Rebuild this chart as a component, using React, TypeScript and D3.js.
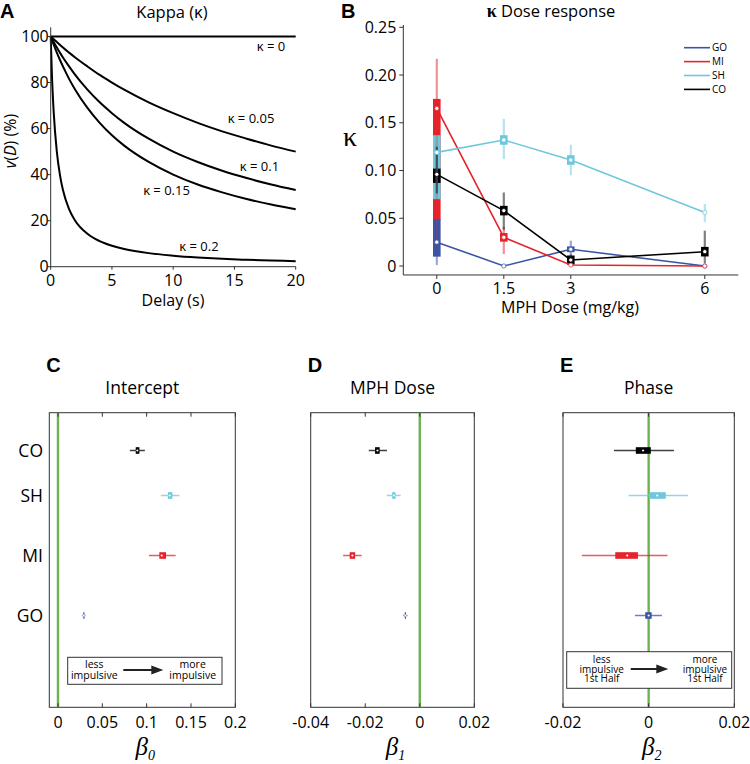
import React from "react";
import * as d3 from "d3";

// ---------- Panel A data ----------
const delays = [0, 0.1, 0.25, 0.5, 0.75, 1, 1.5, 2, 3, 4, 5, 6, 8, 10, 12, 14, 16, 18, 20];
const curveK0 = [100, 100, 100, 100, 100, 100, 100, 100, 100, 100, 100, 100, 100, 100, 100, 100, 100, 100, 100];
const curveK005 = [100, 99.5, 98.8, 97.6, 96.4, 95.2, 93.0, 90.9, 87.0, 83.3, 80.0, 76.9, 71.4, 66.7, 62.5, 58.8, 55.6, 52.6, 50.0];
const curveK01 = [100, 99.0, 97.6, 95.2, 93.0, 90.9, 87.0, 83.3, 76.9, 71.4, 66.7, 62.5, 55.6, 50.0, 45.5, 41.7, 38.5, 35.7, 33.3];
const curveK015 = [100, 98.5, 96.4, 93.0, 89.9, 87.0, 81.6, 76.9, 69.0, 62.5, 57.1, 52.6, 45.5, 40.0, 35.7, 32.3, 29.4, 27.0, 25.0];
const curveK02 = [100, 83.3, 66.7, 50.0, 40.0, 33.3, 25.0, 20.0, 14.3, 11.1, 9.1, 7.7, 5.9, 4.8, 4.0, 3.4, 3.0, 2.7, 2.4];
const curveLabels = ["κ = 0", "κ = 0.05", "κ = 0.1", "κ = 0.15", "κ = 0.2"];
const aYTicks = [0, 20, 40, 60, 80, 100];
const aXTicks = [0, 5, 10, 15, 20];

// ---------- Panel B data ----------
const doses = [0, 1.5, 3, 6];
const groups = ["GO", "MI", "SH", "CO"];
const groupColors = ["#3b54a5", "#e4232b", "#6ec8dc", "#000000"];
const bGO = [0.025, 0.0, 0.0175, 0.0];
const bMI = [0.165, 0.03, 0.001, 0.0];
const bSH = [0.119, 0.132, 0.111, 0.056];
const bCO = [0.096, 0.058, 0.0063, 0.015];
const bGOci = [[0.001, 0.05], null, [0.009, 0.0265], null];
const bMIci = [[0.02, 0.217], [0.0126, 0.041], null, null];
const bSHci = [[0.07, 0.137], [0.112, 0.154], [0.095, 0.127], [0.046, 0.065]];
const bCOci = [[0.076, 0.125], [0.038, 0.077], [0.0, 0.012], [0.003, 0.037]];
const bGOiqr = [[0.0098, 0.049], null, [0.0145, 0.0205], null];
const bMIiqr = [[0.048, 0.175], [0.0255, 0.0345], null, null];
const bSHiqr = [[0.07, 0.137], [0.127, 0.137], [0.106, 0.116], null];
const bCOiqr = [[0.087, 0.102], [0.053, 0.063], [0.0015, 0.011], [0.01, 0.02]];
const bYTicks = [0, 0.05, 0.1, 0.15, 0.2, 0.25];
const bYTickLabels = ["0", "0.05", "0.10", "0.15", "0.20", "0.25"];
const bXTickLabels = ["0", "1.5", "3", "6"];

// ---------- Panels C, D, E data ----------
const rowNames = ["GO", "MI", "SH", "CO"];
const rowPos = [1, 2, 3, 3.75];
const cMed = [0.029, 0.117, 0.126, 0.0895];
const cCiLo = [0.027, 0.1026, 0.116, 0.081];
const cCiHi = [0.031, 0.1327, 0.137, 0.098];
const cIqrLo = [0.0285, 0.1143, 0.124, 0.0877];
const cIqrHi = [0.0295, 0.1219, 0.129, 0.0918];
const dMed = [-0.0053, -0.0247, -0.0095, -0.0155];
const dCiLo = [-0.0061, -0.0281, -0.0121, -0.0187];
const dCiHi = [-0.0045, -0.0213, -0.007, -0.012];
const dIqrLo = [-0.0055, -0.0257, -0.0101, -0.0164];
const dIqrHi = [-0.0051, -0.0237, -0.0089, -0.0147];
const eMed = [0.0, -0.005, 0.002, -0.0013];
const eCiLo = [-0.0032, -0.0156, -0.0047, -0.0081];
const eCiHi = [0.0031, 0.0044, 0.0092, 0.0059];
const eIqrLo = [-0.0008, -0.0078, 0.0001, -0.003];
const eIqrHi = [0.0007, -0.0025, 0.004, 0.0005];
const cTicks = [0, 0.05, 0.1, 0.15, 0.2];
const cTickLabels = ["0", "0.05", "0.1", "0.15", "0.2"];
const dTicks = [-0.04, -0.02, 0, 0.02];
const dTickLabels = ["-0.04", "-0.02", "0", "0.02"];
const eTicks = [-0.02, 0, 0.02];
const eTickLabels = ["-0.02", "0", "0.02"];

const SANS = "'Open Sans', 'Noto Sans', sans-serif";
const BOLD = "'Liberation Sans', Arial, sans-serif";
const SERIF = "'Liberation Serif', 'DejaVu Serif', serif";
const GREEN = "#6db24f";
const AXIS = "#333";

function PanelA() {
  const x = d3.scaleLinear().domain([0, 20]).range([50.7, 295.7]);
  const y = d3.scaleLinear().domain([0, 104]).range([266.7, 27.3]);
  const curves = [curveK0, curveK005, curveK01, curveK015, curveK02];
  const line = d3
    .line<number>()
    .x((_, i) => x(delays[i]))
    .y((v) => y(v))
    .curve(d3.curveMonotoneX);
  const labelPos = [
    [271, 51],
    [251, 123],
    [259.5, 171],
    [166.5, 195],
    [199, 251],
  ];
  return (
    <g>
      <text x={0} y={17.5} fontFamily={BOLD} fontWeight="bold" fontSize={20}>A</text>
      <text x={172} y={17.5} textAnchor="middle" fontFamily={SANS} fontSize={16.5}>Kappa (κ)</text>
      {curves.map((c, i) => (
        <path key={i} d={line(c) || ""} fill="none" stroke="#000" strokeWidth={2} />
      ))}
      <line x1={x(0)} x2={x(0)} y1={y(104)} y2={y(0)} stroke={AXIS} strokeWidth={1} />
      <line x1={x(0)} x2={x(20)} y1={y(0)} y2={y(0)} stroke={AXIS} strokeWidth={1} />
      {aYTicks.map((t) => (
        <g key={t}>
          <line x1={x(0) - 3} x2={x(0)} y1={y(t)} y2={y(t)} stroke={AXIS} />
          <text x={x(0) - 2} y={y(t) + 5.5} textAnchor="end" fontFamily={SANS} fontSize={16}>{t}</text>
        </g>
      ))}
      {aXTicks.map((t) => (
        <g key={t}>
          <line x1={x(t)} x2={x(t)} y1={y(0)} y2={y(0) + 3} stroke={AXIS} />
          <text x={x(t)} y={285.5} textAnchor="middle" fontFamily={SANS} fontSize={16}>{t}</text>
        </g>
      ))}
      <text x={173} y={306} textAnchor="middle" fontFamily={SANS} fontSize={16}>Delay (s)</text>
      <text transform="translate(15.5,141) rotate(-90)" textAnchor="middle" fontFamily={SANS} fontSize={16}>
        <tspan fontStyle="italic">v</tspan>(<tspan fontStyle="italic">D</tspan>) (%)
      </text>
      {curveLabels.map((l, i) => (
        <text key={l} x={labelPos[i][0]} y={labelPos[i][1]} textAnchor="middle" fontFamily={SANS} fontSize={13}>{l}</text>
      ))}
    </g>
  );
}

function PanelB() {
  const x = d3.scaleLinear().domain([-0.75, 6.75]).range([403.3, 738.3]);
  const y = d3.scaleLinear().domain([0, 0.25]).range([266, 27.3]);
  const vals = [bGO, bMI, bSH, bCO];
  const cis = [bGOci, bMIci, bSHci, bCOci];
  const iqrs = [bGOiqr, bMIiqr, bSHiqr, bCOiqr];
  const line = d3
    .line<number>()
    .x((_, i) => x(doses[i]))
    .y((v) => y(v));
  const thickOrder = [1, 2, 0, 3];
  const yBottom = y(-0.0094);
  return (
    <g>
      <text x={341} y={17.5} fontFamily={BOLD} fontWeight="bold" fontSize={20}>B</text>
      <text x={551} y={17} textAnchor="middle" fontFamily={SANS} fontSize={16.5}>
        <tspan fontFamily={SERIF} fontSize={18} fontWeight="bold">κ</tspan> Dose response
      </text>
      {thickOrder.map((g) =>
        iqrs[g].map((r, i) =>
          r ? (
            <rect key={`iq${g}-${i}`} x={x(doses[i]) - 3.8} width={7.6} y={y(r[1])} height={Math.max(y(r[0]) - y(r[1]), 1)} fill={groupColors[g]} />
          ) : null
        )
      )}
      {thickOrder.map((g) =>
        cis[g].map((r, i) =>
          r ? (
            <line key={`ci${g}-${i}`} x1={x(doses[i])} x2={x(doses[i])} y1={y(r[0])} y2={y(r[1])} stroke={groupColors[g]} strokeWidth={2.2} strokeOpacity={0.5} />
          ) : null
        )
      )}
      {vals.map((v, g) => (
        <path key={`l${g}`} d={line(v) || ""} fill="none" stroke={groupColors[g]} strokeWidth={1.6} />
      ))}
      {vals.map((v, g) =>
        v.map((d, i) => (
          <circle key={`c${g}-${i}`} cx={x(doses[i])} cy={y(d)} r={2.1} fill="#fff" stroke={groupColors[g]} strokeWidth={0.9} strokeOpacity={0.8} />
        ))
      )}
      <line x1={x(-0.75)} x2={x(-0.75)} y1={25} y2={yBottom} stroke={AXIS} />
      <line x1={x(-0.75)} x2={x(6.75)} y1={yBottom} y2={yBottom} stroke={AXIS} />
      {bYTicks.map((t, i) => (
        <g key={t}>
          <line x1={x(-0.75) - 4} x2={x(-0.75)} y1={y(t)} y2={y(t)} stroke={AXIS} />
          <text x={x(-0.75) - 7} y={y(t) + 5.5} textAnchor="end" fontFamily={SANS} fontSize={16}>{bYTickLabels[i]}</text>
        </g>
      ))}
      {doses.map((t, i) => (
        <g key={t}>
          <line x1={x(t)} x2={x(t)} y1={yBottom} y2={yBottom + 4} stroke={AXIS} />
          <text x={x(t)} y={294} textAnchor="middle" fontFamily={SANS} fontSize={16}>{bXTickLabels[i]}</text>
        </g>
      ))}
      <text x={570} y={313} textAnchor="middle" fontFamily={SANS} fontSize={16}>MPH Dose (mg/kg)</text>
      <text x={350} y={146} textAnchor="middle" fontFamily={SERIF} fontSize={28}>κ</text>
      {groups.map((gname, g) => (
        <g key={gname}>
          <line x1={684} x2={710} y1={47.7 + g * 13.9} y2={47.7 + g * 13.9} stroke={groupColors[g]} strokeWidth={1.6} />
          <text x={712} y={47.7 + g * 13.9 + 3.6} fontFamily={SANS} fontSize={10}>{gname}</text>
        </g>
      ))}
    </g>
  );
}

type Legend = { x0: number; x1: number; y0: number; y1: number; left: string[]; right: string[]; lineY: number[]; lx: number; rx: number; a0: number; a1: number; ay: number; fs: number };

type ForestProps = {
  letter: string;
  title: string;
  x0: number;
  x1: number;
  domain: [number, number];
  ticks: number[];
  tickLabels: string[];
  med: number[];
  ciLo: number[];
  ciHi: number[];
  iqrLo: number[];
  iqrHi: number[];
  sub: string;
  showRows: boolean;
  legend: null | Legend;
};

function Forest(p: ForestProps) {
  const top = 412.7;
  const bottom = 707.3;
  const x = d3.scaleLinear().domain(p.domain).range([p.x0, p.x1]);
  const y = d3.scaleLinear().domain([-0.53, 4.38]).range([bottom, top]);
  const cx = (p.x0 + p.x1) / 2;
  const L = p.legend;
  return (
    <g>
      <text x={p.x0 - 3} y={372} fontFamily={BOLD} fontWeight="bold" fontSize={20}>{p.letter}</text>
      <text x={cx} y={394} textAnchor="middle" fontFamily={SANS} fontSize={17.5}>{p.title}</text>
      <rect x={p.x0} y={top} width={p.x1 - p.x0} height={bottom - top} fill="#fff" stroke={AXIS} strokeWidth={1} />
      <line x1={x(0)} x2={x(0)} y1={top} y2={bottom} stroke={GREEN} strokeWidth={2.4} />
      {L && (
        <g fontFamily={SANS} fontSize={L.fs} textAnchor="middle">
          <rect x={L.x0} y={L.y0} width={L.x1 - L.x0} height={L.y1 - L.y0} fill="#fff" stroke={AXIS} strokeWidth={1} />
          {L.left.map((t, i) => (
            <text key={`l${i}`} x={L.lx} y={L.lineY[i] + L.fs * 0.35}>{t}</text>
          ))}
          {L.right.map((t, i) => (
            <text key={`r${i}`} x={L.rx} y={L.lineY[i] + L.fs * 0.35}>{t}</text>
          ))}
          <line x1={L.a0} x2={L.a1 - 8} y1={L.ay} y2={L.ay} stroke="#222" strokeWidth={2} />
          <path d={`M${L.a1},${L.ay} L${L.a1 - 12},${L.ay - 4.5} L${L.a1 - 12},${L.ay + 4.5} Z`} fill="#222" />
        </g>
      )}
      {p.ticks.map((t, i) => (
        <g key={t}>
          <line x1={x(t)} x2={x(t)} y1={bottom} y2={bottom - 4} stroke={AXIS} />
          <line x1={x(t)} x2={x(t)} y1={top} y2={top + 4} stroke={AXIS} />
          <text x={x(t)} y={728} textAnchor="middle" fontFamily={SANS} fontSize={16}>{p.tickLabels[i]}</text>
        </g>
      ))}
      {p.med.map((m, i) => (
        <g key={i}>
          <line x1={x(p.ciLo[i])} x2={x(p.ciHi[i])} y1={y(rowPos[i])} y2={y(rowPos[i])} stroke={groupColors[i]} strokeWidth={1.5} strokeOpacity={0.75} />
          <rect x={x(p.iqrLo[i])} width={Math.max(x(p.iqrHi[i]) - x(p.iqrLo[i]), 1.2)} y={y(rowPos[i]) - 3.3} height={6.6} fill={groupColors[i]} />
          <circle cx={x(m)} cy={y(rowPos[i])} r={1.1} fill="#fff" />
        </g>
      ))}
      {p.showRows &&
        rowNames.map((r, i) => (
          <text key={r} x={43} y={y(rowPos[i]) + 6.3} textAnchor="end" fontFamily={SANS} fontSize={17.5}>{r}</text>
        ))}
      <text x={cx + 3} y={755} textAnchor="middle" fontFamily={SERIF} fontStyle="italic" fontSize={25}>
        β<tspan fontSize={14} dy={5}>{p.sub}</tspan>
      </text>
    </g>
  );
}

export default function App() {
  return (
    <svg width={750} height={764} viewBox="0 0 750 764" style={{ position: "absolute", left: 0, top: 0, background: "#fff" }}>
      <rect width={750} height={764} fill="#fff" />
      <PanelA />
      <PanelB />
      <Forest
        letter="C"
        title="Intercept"
        x0={49.3}
        x1={235.3}
        domain={[-0.0098, 0.2]}
        ticks={cTicks}
        tickLabels={cTickLabels}
        med={cMed}
        ciLo={cCiLo}
        ciHi={cCiHi}
        iqrLo={cIqrLo}
        iqrHi={cIqrHi}
        sub="0"
        showRows={true}
        legend={{ x0: 67.7, x1: 222, y0: 657.3, y1: 684.3, left: ["less", "impulsive"], right: ["more", "impulsive"], lineY: [664.3, 675], lx: 94.3, rx: 192.7, a0: 123.3, a1: 163.3, ay: 670, fs: 10.5 }}
      />
      <Forest
        letter="D"
        title="MPH Dose"
        x0={310.7}
        x1={474.3}
        domain={[-0.04, 0.02]}
        ticks={dTicks}
        tickLabels={dTickLabels}
        med={dMed}
        ciLo={dCiLo}
        ciHi={dCiHi}
        iqrLo={dIqrLo}
        iqrHi={dIqrHi}
        sub="1"
        showRows={false}
        legend={null}
      />
      <Forest
        letter="E"
        title="Phase"
        x0={563}
        x1={734.3}
        domain={[-0.02, 0.02]}
        ticks={eTicks}
        tickLabels={eTickLabels}
        med={eMed}
        ciLo={eCiLo}
        ciHi={eCiHi}
        iqrLo={eIqrLo}
        iqrHi={eIqrHi}
        sub="2"
        showRows={false}
        legend={{ x0: 566.7, x1: 731.7, y0: 651.7, y1: 688.3, left: ["less", "impulsive", "1st Half"], right: ["more", "impulsive", "1st Half"], lineY: [659.8, 669.2, 678.6], lx: 601.7, rx: 705, a0: 630.7, a1: 668.3, ay: 669, fs: 10 }}
      />
    </svg>
  );
}
